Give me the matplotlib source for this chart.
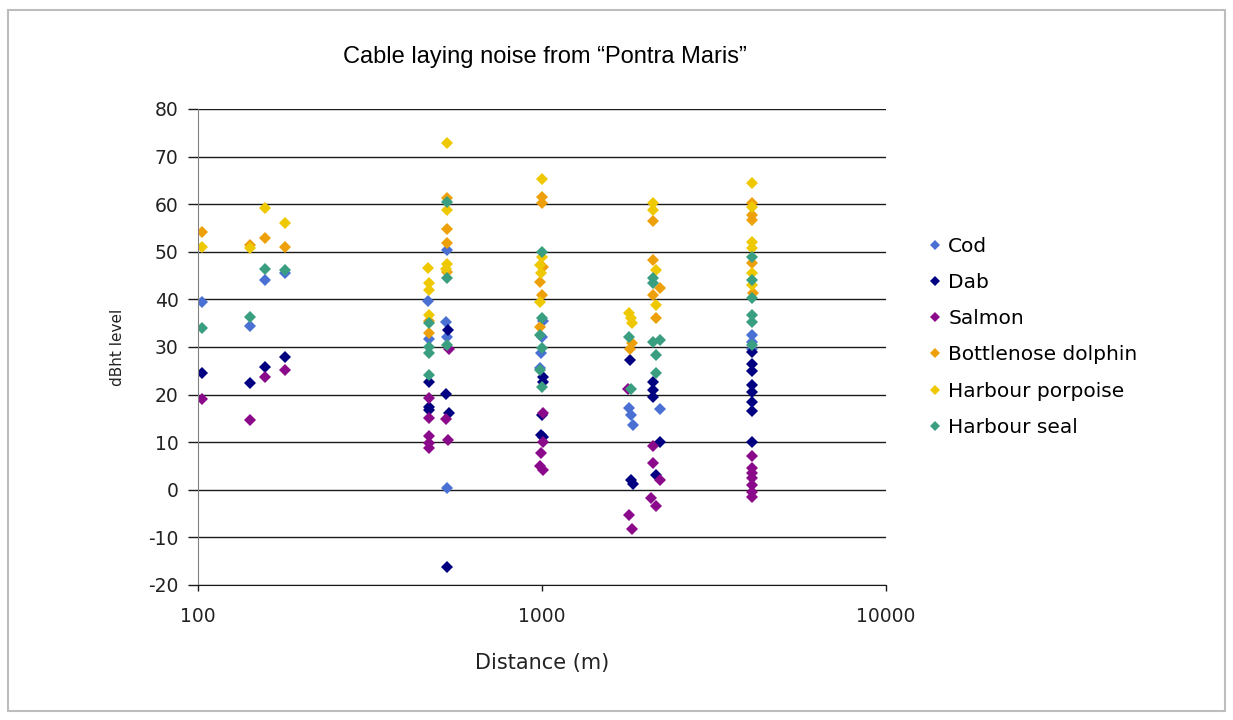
import matplotlib
matplotlib.use("Agg")
import matplotlib.pyplot as plt
from matplotlib.patches import Rectangle

plt.rcParams["axes.unicode_minus"] = False

# Received levels (dBht) per species against distance from the cable layer
cod_dist = [103, 142, 157, 179, 466, 470, 529, 527, 531, 530, 1005, 1000, 995, 990, 1790, 1810, 1840, 2200, 4080, 4070, 4090]
cod_db = [39.4, 34.4, 44.0, 45.6, 39.7, 31.6, 50.3, 35.3, 32.1, 0.4, 35.5, 32.2, 28.7, 25.5, 17.1, 15.7, 13.6, 16.9, 32.5, 31.0, 29.5]

dab_dist = [103, 142, 157, 179, 468, 468, 468, 532, 525, 535, 529, 1010, 1005, 1000, 995, 1010, 1800, 1810, 1840, 2100, 2100, 2100, 2200, 2150, 4080, 4070, 4080, 4090, 4070, 4080, 4090, 4080]
dab_db = [24.5, 22.4, 25.9, 28.0, 22.7, 17.5, 16.8, 33.5, 20.2, 16.1, -16.2, 23.8, 22.7, 15.7, 11.5, 11.0, 27.2, 2.1, 1.3, 22.7, 21.0, 19.6, 10.1, 3.1, 29.0, 26.5, 25.0, 22.0, 20.5, 18.5, 16.5, 10.0]

salmon_dist = [103, 142, 157, 179, 468, 468, 468, 470, 468, 535, 525, 532, 1010, 1005, 995, 990, 1010, 1780, 1790, 1830, 2100, 2100, 2200, 2080, 2150, 4080, 4070, 4090, 4080, 4070, 4090, 4080]
salmon_db = [19.0, 14.7, 23.7, 25.1, 19.2, 15.1, 11.2, 9.8, 8.8, 29.5, 14.8, 10.4, 16.2, 10.1, 7.7, 4.9, 4.2, 21.1, -5.3, -8.2, 9.1, 5.6, 2.1, -1.7, -3.5, 7.0, 4.5, 3.5, 2.5, 1.0, -0.5, -1.5]

dolphin_dist = [103, 142, 157, 179, 468, 470, 529, 529, 529, 529, 1000, 1000, 1010, 985, 1000, 990, 1830, 1800, 2100, 2100, 2200, 2100, 2150, 4080, 4080, 4080, 4080, 4100]
dolphin_db = [54.2, 51.5, 52.8, 51.0, 35.5, 32.9, 61.2, 54.7, 51.9, 45.8, 61.6, 60.2, 46.9, 43.7, 40.9, 34.3, 30.8, 29.5, 56.4, 48.3, 42.3, 40.9, 36.0, 60.2, 57.7, 56.7, 47.6, 41.3]

porpoise_dist = [103, 142, 157, 179, 466, 468, 468, 468, 529, 529, 529, 527, 1000, 1000, 985, 995, 990, 1790, 1810, 1830, 2100, 2100, 2150, 2150, 4080, 4080, 4080, 4080, 4090, 4090]
porpoise_db = [51.0, 50.8, 59.3, 56.1, 46.7, 43.4, 41.9, 36.7, 72.9, 58.8, 47.5, 46.3, 65.2, 49.0, 47.2, 45.5, 39.5, 37.1, 36.0, 35.0, 60.2, 58.8, 46.2, 38.8, 64.5, 59.5, 52.1, 50.7, 45.5, 43.0]

seal_dist = [103, 142, 157, 179, 468, 468, 468, 468, 529, 529, 529, 1000, 1000, 985, 1000, 990, 1000, 1790, 1810, 2100, 2100, 2100, 2200, 2150, 2150, 4080, 4080, 4080, 4080, 4080, 4090]
seal_db = [34.0, 36.4, 46.3, 46.2, 35.1, 30.1, 28.8, 24.1, 60.4, 44.4, 30.4, 50.0, 36.0, 32.5, 29.7, 25.2, 21.7, 32.2, 21.1, 44.4, 43.4, 31.1, 31.5, 28.3, 24.5, 49.0, 44.1, 40.2, 36.7, 35.3, 30.4]

species = ["Cod", "Dab", "Salmon", "Bottlenose dolphin", "Harbour porpoise", "Harbour seal"]
colors = ["#4a70d4", "#000080", "#8b0a8b", "#eea00a", "#eec800", "#3a9e80"]
series = [(cod_dist, cod_db), (dab_dist, dab_db), (salmon_dist, salmon_db),
          (dolphin_dist, dolphin_db), (porpoise_dist, porpoise_db), (seal_dist, seal_db)]

fig = plt.figure(figsize=(12.33, 7.2), dpi=100)
ax = fig.add_axes([198 / 1233, 1 - 585 / 720, (886 - 198) / 1233, (585 - 109) / 720])

for name, col, (xs, ys) in zip(species, colors, series):
    ax.plot(xs, ys, linestyle="none", marker="D", markersize=6.3,
            color=col, markeredgewidth=0, label=name)

ax.set_xscale("log")
ax.set_xlim(100, 10000)
ax.set_ylim(-20, 80)
ax.set_xticks([100, 1000, 10000])
ax.set_xticklabels(["100", "1000", "10000"])
ax.xaxis.set_minor_locator(matplotlib.ticker.NullLocator())
ax.set_yticks(range(-20, 81, 10))

ax.grid(axis="y", color="#1a1a1a", linewidth=1.0)
ax.set_axisbelow(True)
for side in ["top", "right"]:
    ax.spines[side].set_visible(False)
ax.spines["left"].set_color("#808080")
ax.spines["bottom"].set_color("#1a1a1a")

ax.tick_params(axis="y", length=7, width=1, color="#1a1a1a", pad=7,
               labelsize=13.5, labelcolor="#222222")
ax.tick_params(axis="x", length=4, width=1, color="#1a1a1a", pad=12,
               labelsize=13.5, labelcolor="#222222")

ax.set_xlabel("Distance (m)", family="DejaVu Sans", fontsize=15, color="#222222", labelpad=19)
ax.set_ylabel("dBht level", family="DejaVu Sans", fontsize=11, color="#222222", labelpad=17)

fig.text(545 / 1233, 1 - 57 / 720, "Cable laying noise from \u201cPontra Maris\u201d",
         ha="center", va="center", family="Liberation Sans", fontsize=17)

fig.legend(loc="upper left", bbox_to_anchor=(911 / 1233, 1 - 219 / 720), frameon=False,
           prop={"family": "DejaVu Sans", "size": 14.5}, labelspacing=0.85,
           handlelength=0.6, handletextpad=0.35, markerscale=0.75)

# thin frame round the whole chart
fig.patches.append(Rectangle((8 / 1233, 1 - 711 / 720), (1225 - 8) / 1233, (711 - 10) / 720,
                             transform=fig.transFigure, fill=False,
                             edgecolor="#bdbdbd", linewidth=1.5))

fig.savefig("out.png", dpi=100)
